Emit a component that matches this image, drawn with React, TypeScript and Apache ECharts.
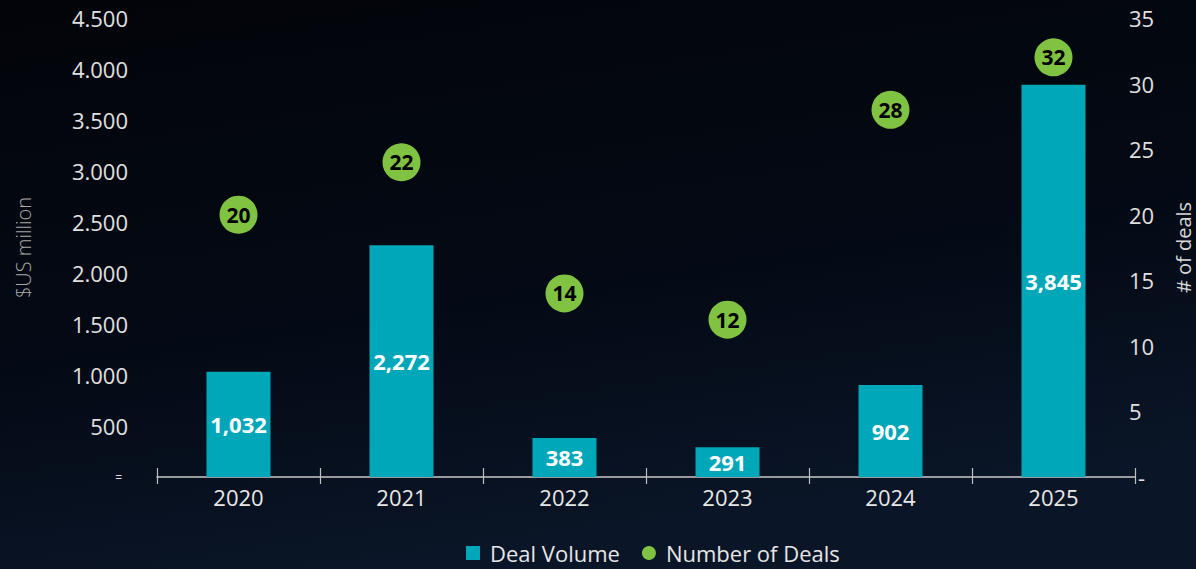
import React, { useEffect, useRef } from "react";
import * as echarts from "echarts";

const years = ["2020", "2021", "2022", "2023", "2024", "2025"];
const dealVolume = [1032, 2272, 383, 291, 902, 3845];
const dealCountLabels = [20, 22, 14, 12, 28, 32];
const dealCountPositions = [20, 24, 14, 12, 28, 32];
const leftAxisMax = 4500;
const leftAxisStep = 500;
const rightAxisMax = 35;
const rightAxisStep = 5;

const FONT = "'Open Sans', 'Noto Sans', sans-serif";
const TEAL = "#00a7b9";
const GREEN = "#80c342";

function fmtDots(v: number): string {
  if (v === 0) return "{z|=}";
  return String(v).replace(/\B(?=(\d{3})+(?!\d))/g, ".");
}
function fmtComma(v: number): string {
  return String(v).replace(/\B(?=(\d{3})+(?!\d))/g, ",");
}

export default function App() {
  const ref = useRef<HTMLDivElement>(null);
  useEffect(() => {
    document.body.style.margin = "0";
    const chart = echarts.init(ref.current!, undefined, { renderer: "svg" });
    chart.setOption({
      animation: false,
      backgroundColor: {
        type: "linear",
        x: 0,
        y: 0,
        x2: 0.3,
        y2: 1,
        colorStops: [
          { offset: 0, color: "#020409" },
          { offset: 0.6, color: "#040a15" },
          { offset: 1, color: "#0a1527" },
        ],
      },
      textStyle: { fontFamily: FONT },
      grid: { left: 157, right: 61, top: 18, bottom: 92, containLabel: false, outerBoundsMode: "none" },
      legend: {
        left: 461,
        top: 537,
        itemWidth: 14,
        itemHeight: 14,
        itemGap: 22,
        textStyle: { color: "#e6e6e6", fontSize: 22, fontFamily: FONT, padding: [0, 0, 0, 5] },
        data: [
          { name: "Deal Volume", icon: "rect" },
          { name: "Number of Deals", icon: "circle" },
        ],
      },
      xAxis: [
        {
          type: "category",
          data: years,
          boundaryGap: true,
          axisLine: { lineStyle: { color: "#c8c8c8", width: 1.5 } },
          axisTick: { show: true, length: 7, lineStyle: { color: "#c0c0c0", width: 1.2 } },
          axisLabel: { color: "#e8e8e8", fontSize: 22, margin: 9, fontFamily: FONT },
          splitLine: { show: false },
        },
        {
          type: "category",
          data: years,
          position: "bottom",
          boundaryGap: true,
          axisLine: { show: false },
          axisTick: { show: true, inside: true, length: 9, lineStyle: { color: "#c0c0c0", width: 1.2 } },
          axisLabel: { show: false },
          splitLine: { show: false },
        },
      ],
      yAxis: [
        {
          type: "value",
          position: "left",
          min: 0,
          max: leftAxisMax,
          interval: leftAxisStep,
          name: "$US million",
          nameLocation: "middle",
          nameRotate: 90,
          nameGap: 124,
          nameTextStyle: { color: "#a8a8a8", fontSize: 20, fontWeight: 300, fontFamily: FONT },
          axisLine: { show: false },
          axisTick: { show: false },
          splitLine: { show: false },
          axisLabel: {
            color: "#e0e0e0",
            fontSize: 22,
            margin: 29,
            fontFamily: FONT,
            showMinLabel: true,
            formatter: (v: number) => fmtDots(v),
            rich: { z: { fontSize: 12, color: "#e0e0e0", fontFamily: FONT, padding: [0, 6, 0, 0] } },
          },
        },
        {
          type: "value",
          position: "right",
          offset: -15,
          min: 0,
          max: rightAxisMax,
          interval: rightAxisStep,
          name: "# of deals",
          nameLocation: "middle",
          nameRotate: 90,
          nameGap: 53,
          nameTextStyle: { color: "#d8d8d8", fontSize: 20, fontFamily: FONT },
          axisLine: { show: false },
          axisTick: { show: false },
          splitLine: { show: false },
          axisLabel: {
            color: "#e0e0e0",
            fontSize: 22,
            margin: 9,
            fontFamily: FONT,
            showMinLabel: true,
            formatter: (v: number) => (v === 0 ? "{d|-}" : String(v)),
            rich: { d: { fontSize: 22, color: "#e0e0e0", fontFamily: FONT, padding: [0, 0, 0, 9] } },
          },
        },
      ],
      series: [
        {
          name: "Deal Volume",
          type: "bar",
          xAxisIndex: 0,
          yAxisIndex: 0,
          data: dealVolume,
          barWidth: 64,
          itemStyle: { color: TEAL },
          label: {
            show: true,
            position: "inside",
            color: "#ffffff",
            fontWeight: "bold",
            fontSize: 22,
            fontFamily: FONT,
            formatter: (p: any) => fmtComma(p.value),
          },
        },
        {
          name: "Number of Deals",
          type: "scatter",
          xAxisIndex: 0,
          yAxisIndex: 1,
          data: dealCountPositions,
          symbol: "circle",
          symbolSize: 38,
          itemStyle: { color: GREEN, opacity: 1 },
          label: {
            show: true,
            position: "inside",
            color: "#000000",
            fontWeight: "bold",
            fontSize: 21,
            fontFamily: FONT,
            formatter: (p: any) => String(dealCountLabels[p.dataIndex]),
          },
        },
      ],
    });
    return () => chart.dispose();
  }, []);
  return <div ref={ref} style={{ position: "absolute", left: 0, top: 0, width: 1196, height: 569 }} />;
}
